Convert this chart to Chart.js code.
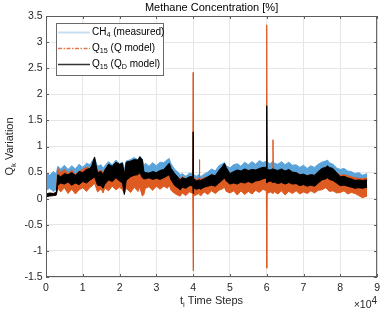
<!DOCTYPE html>
<html>
<head>
<meta charset="utf-8">
<script src="https://cdn.jsdelivr.net/npm/chart.js@4.4.1/dist/chart.umd.min.js"></script>
<style>
  html, body { margin: 0; padding: 0; background: #fff; }
  #wrap { width: 385px; height: 316px; }
</style>
</head>
<body>
<div id="wrap"><canvas id="chart" width="385" height="316"></canvas></div>
<script>
const steps = [
  0, 1000, 2000, 2800, 3200, 4000, 5000, 6000, 7000, 8000,
  9000, 10000, 11000, 12000, 12500, 13200, 14000, 15000, 15500, 16000,
  17000, 18000, 19000, 20000, 20800, 21300, 21800, 23000, 24000, 25000,
  25500, 26200, 26600, 27000, 28000, 29000, 30000, 31000, 32000, 33000,
  33500, 34000, 35000, 36000, 36500, 37000, 38000, 39000, 39900, 40000,
  40100, 41000, 41600, 41700, 41800, 42000, 43000, 44000, 45000, 46000,
  47000, 48000, 48500, 49000, 50000, 51000, 52000, 53000, 54000, 55000,
  56000, 57000, 58000, 59000, 59900, 60000, 60100, 61000, 61600, 61700,
  61800, 62000, 63000, 64000, 65000, 66000, 67000, 68000, 69000, 70000,
  71000, 72000, 73000, 74000, 75000, 76000, 76500, 77000, 78000, 79000,
  80000, 81000, 82000, 83000, 84000, 85000, 86000, 87300
];

// CH4 (measured), lower / upper edge of the band
const ch4Low = [
  0.16, 0.20, 0.14, 0.18, 0.30, 0.26, 0.30, 0.28, 0.32, 0.27,
  0.31, 0.30, 0.34, 0.33, 0.36, 0.38, 0.28, 0.27, 0.24, 0.28,
  0.32, 0.30, 0.36, 0.32, 0.30, 0.20, 0.32, 0.36, 0.38, 0.40,
  0.42, 0.35, 0.32, 0.34, 0.36, 0.34, 0.37, 0.35, 0.38, 0.40,
  0.42, 0.36, 0.30, 0.24, 0.22, 0.25, 0.24, 0.27, 0.28, 0.28,
  0.25, 0.24, 0.26, 0.26, 0.26, 0.25, 0.26, 0.28, 0.30, 0.28,
  0.32, 0.34, 0.36, 0.33, 0.30, 0.32, 0.31, 0.34, 0.32, 0.35,
  0.33, 0.36, 0.35, 0.38, 0.38, 0.38, 0.34, 0.36, 0.33, 0.33,
  0.33, 0.34, 0.31, 0.33, 0.30, 0.32, 0.29, 0.30, 0.27, 0.29,
  0.27, 0.29, 0.28, 0.30, 0.33, 0.35, 0.37, 0.34, 0.32, 0.29,
  0.26, 0.27, 0.26, 0.24, 0.22, 0.23, 0.22, 0.25
];
const ch4High = [
  0.50, 0.45, 0.52, 0.48, 0.62, 0.57, 0.64, 0.56, 0.63, 0.57,
  0.66, 0.60, 0.68, 0.65, 0.72, 0.78, 0.62, 0.65, 0.58, 0.63,
  0.71, 0.65, 0.74, 0.67, 0.70, 0.55, 0.72, 0.75, 0.79, 0.74,
  0.82, 0.75, 0.62, 0.68, 0.62, 0.69, 0.63, 0.70, 0.69, 0.75,
  0.77, 0.67, 0.56, 0.50, 0.46, 0.48, 0.43, 0.49, 0.48, 0.55,
  0.46, 0.43, 0.47, 0.47, 0.47, 0.42, 0.47, 0.51, 0.57, 0.53,
  0.63, 0.67, 0.69, 0.63, 0.59, 0.65, 0.67, 0.62, 0.70, 0.65,
  0.71, 0.66, 0.73, 0.69, 0.72, 0.80, 0.70, 0.67, 0.72, 0.72,
  0.72, 0.68, 0.66, 0.71, 0.65, 0.70, 0.64, 0.65, 0.60, 0.64,
  0.58, 0.63, 0.60, 0.66, 0.70, 0.72, 0.74, 0.69, 0.66, 0.59,
  0.56, 0.58, 0.53, 0.52, 0.48, 0.50, 0.45, 0.48
];

// Q15 (Q model)
const qLow = [
  0.05, 0.06, 0.06, 0.07, 0.20, 0.13, 0.21, 0.10, 0.18, 0.09,
  0.17, 0.21, 0.14, 0.22, 0.24, 0.30, 0.13, 0.19, 0.11, 0.21,
  0.15, 0.24, 0.17, 0.22, 0.17, 0.10, 0.20, 0.12, 0.22, 0.14,
  0.22, 0.05, 0.08, 0.20, 0.23, 0.16, 0.24, 0.18, 0.24, 0.20,
  0.26, 0.16, 0.10, 0.06, 0.05, 0.11, 0.06, 0.13, 0.10, -1.38,
  0.05, 0.08, 0.10, 0.10, 0.10, 0.05, 0.13, 0.08, 0.15, 0.10,
  0.16, 0.19, 0.22, 0.14, 0.11, 0.15, 0.07, 0.15, 0.08, 0.14,
  0.09, 0.16, 0.12, 0.18, 0.15, -1.33, 0.10, 0.13, 0.10, 0.10,
  0.10, 0.14, 0.09, 0.15, 0.07, 0.14, 0.10, 0.15, 0.09, 0.13,
  0.10, 0.15, 0.11, 0.16, 0.17, 0.21, 0.18, 0.14, 0.15, 0.11,
  0.12, 0.15, 0.09, 0.12, 0.10, 0.06, 0.02, 0.05
];
const qHigh = [
  0.09, 0.10, 0.10, 0.12, 0.58, 0.50, 0.56, 0.48, 0.55, 0.46,
  0.52, 0.56, 0.60, 0.58, 0.64, 0.70, 0.52, 0.55, 0.48, 0.56,
  0.62, 0.58, 0.64, 0.60, 0.60, 0.50, 0.62, 0.58, 0.64, 0.60,
  0.68, 0.60, 0.45, 0.46, 0.44, 0.47, 0.48, 0.50, 0.52, 0.55,
  0.56, 0.50, 0.45, 0.40, 0.38, 0.42, 0.38, 0.42, 0.42, 2.42,
  0.40, 0.36, 0.40, 0.75, 0.40, 0.37, 0.40, 0.42, 0.46, 0.44,
  0.52, 0.58, 0.62, 0.55, 0.48, 0.50, 0.48, 0.52, 0.50, 0.54,
  0.51, 0.55, 0.56, 0.57, 0.58, 3.33, 0.52, 0.54, 0.51, 1.13,
  0.51, 0.53, 0.49, 0.52, 0.48, 0.51, 0.49, 0.50, 0.46, 0.47,
  0.44, 0.46, 0.44, 0.50, 0.56, 0.60, 0.62, 0.58, 0.55, 0.50,
  0.45, 0.46, 0.44, 0.42, 0.40, 0.39, 0.38, 0.40
];

// Q15 (QD model)
const qdLow = [
  0.04, 0.05, 0.06, 0.07, 0.26, 0.30, 0.28, 0.32, 0.26, 0.30,
  0.27, 0.33, 0.30, 0.36, 0.38, 0.42, 0.26, 0.25, 0.20, 0.28,
  0.36, 0.33, 0.40, 0.34, 0.30, 0.08, 0.35, 0.42, 0.45, 0.46,
  0.50, 0.40, 0.38, 0.38, 0.40, 0.37, 0.39, 0.37, 0.40, 0.44,
  0.46, 0.36, 0.25, 0.20, 0.17, 0.22, 0.20, 0.25, 0.25, 0.10,
  0.20, 0.18, 0.20, 0.20, 0.20, 0.18, 0.22, 0.24, 0.26, 0.24,
  0.30, 0.36, 0.40, 0.34, 0.28, 0.30, 0.28, 0.32, 0.30, 0.33,
  0.30, 0.34, 0.35, 0.38, 0.40, 0.30, 0.32, 0.34, 0.31, 0.31,
  0.31, 0.32, 0.29, 0.31, 0.28, 0.31, 0.28, 0.29, 0.25, 0.27,
  0.24, 0.26, 0.24, 0.30, 0.36, 0.38, 0.40, 0.37, 0.35, 0.30,
  0.25, 0.26, 0.24, 0.22, 0.20, 0.21, 0.20, 0.22
];
const qdHigh = [
  0.09, 0.11, 0.10, 0.12, 0.46, 0.42, 0.48, 0.46, 0.50, 0.45,
  0.52, 0.50, 0.56, 0.58, 0.64, 0.80, 0.50, 0.52, 0.46, 0.55,
  0.66, 0.62, 0.70, 0.66, 0.68, 0.45, 0.70, 0.72, 0.75, 0.74,
  0.80, 0.75, 0.52, 0.50, 0.49, 0.52, 0.50, 0.54, 0.56, 0.64,
  0.68, 0.58, 0.48, 0.40, 0.36, 0.40, 0.38, 0.42, 0.42, 1.28,
  0.38, 0.34, 0.36, 0.36, 0.36, 0.35, 0.38, 0.42, 0.46, 0.44,
  0.54, 0.62, 0.68, 0.60, 0.48, 0.52, 0.55, 0.53, 0.57, 0.54,
  0.56, 0.55, 0.58, 0.60, 0.60, 1.78, 0.56, 0.55, 0.57, 0.57,
  0.57, 0.56, 0.54, 0.57, 0.53, 0.56, 0.51, 0.50, 0.46, 0.47,
  0.44, 0.46, 0.45, 0.52, 0.58, 0.60, 0.63, 0.60, 0.58, 0.50,
  0.42, 0.43, 0.40, 0.38, 0.35, 0.36, 0.35, 0.36
];

const FONT = '"Liberation Sans", Arial, Helvetica, sans-serif';
const AXIS_COLOR = '#262626';
const GRID_COLOR = '#e6e6e6';
const BLUE = '#5aa3db';
const ORANGE = '#dd5a20';
const BLACK = '#000000';

function pts(values) {
  return steps.map((x, i) => ({ x, y: values[i] }));
}

function band(values, fillTo, color) {
  return {
    data: pts(values),
    borderColor: color,
    backgroundColor: color,
    borderWidth: 1,
    pointRadius: 0,
    fill: fillTo,
  };
}

// text with subscripts: parts = [[text, isSub], ...]
function richWidth(ctx, parts, size) {
  let w = 0;
  for (const [t, sub] of parts) {
    ctx.font = `${sub ? size * 0.72 : size}px ${FONT}`;
    w += ctx.measureText(t).width;
  }
  return w;
}

function drawRich(ctx, parts, x, y, size, align) {
  let cx = x;
  if (align === 'center') cx = x - richWidth(ctx, parts, size) / 2;
  ctx.textAlign = 'left';
  ctx.textBaseline = 'middle';
  for (const [t, sub] of parts) {
    ctx.font = `${sub ? size * 0.72 : size}px ${FONT}`;
    ctx.fillText(t, cx, sub ? y + size * 0.32 : y);
    cx += ctx.measureText(t).width;
  }
}

const matlabFrame = {
  id: 'matlabFrame',
  afterDraw(chart) {
    const { ctx, chartArea: a, scales } = chart;
    ctx.save();

    // axes box + inward ticks
    ctx.strokeStyle = '#5c5c5c';
    ctx.lineWidth = 1;
    ctx.strokeRect(a.left + 0.5, a.top + 0.5, a.right - a.left - 1, a.bottom - a.top - 1);
    ctx.beginPath();
    scales.x.ticks.forEach(t => {
      const px = Math.round(scales.x.getPixelForValue(t.value)) + 0.5;
      ctx.moveTo(px, a.bottom); ctx.lineTo(px, a.bottom - 3);
      ctx.moveTo(px, a.top); ctx.lineTo(px, a.top + 3);
    });
    scales.y.ticks.forEach(t => {
      const py = Math.round(scales.y.getPixelForValue(t.value)) + 0.5;
      ctx.moveTo(a.left, py); ctx.lineTo(a.left + 3, py);
      ctx.moveTo(a.right, py); ctx.lineTo(a.right - 3, py);
    });
    ctx.stroke();

    // title
    ctx.fillStyle = '#000';
    ctx.font = `11px ${FONT}`;
    ctx.textAlign = 'center';
    ctx.textBaseline = 'middle';
    ctx.fillText('Methane Concentration [%]', (a.left + a.right) / 2, 8);

    // axis labels
    ctx.fillStyle = AXIS_COLOR;
    drawRich(ctx, [['t', false], ['i', true], [' Time Steps', false]], (a.left + a.right) / 2, 301, 11, 'center');
    ctx.save();
    ctx.translate(10, (a.top + a.bottom) / 2);
    ctx.rotate(-Math.PI / 2);
    drawRich(ctx, [['Q', false], ['k', true], [' Variation', false]], 0, 0, 11, 'center');
    ctx.restore();

    // exponent label
    ctx.font = `10px ${FONT}`;
    ctx.textAlign = 'right';
    ctx.textBaseline = 'middle';
    ctx.fillText('4', a.right, 301);
    const w4 = ctx.measureText('4').width;
    ctx.font = `10.5px ${FONT}`;
    ctx.fillText('\u00d710', a.right - w4, 305);

    // legend
    const lx = 56, ly = 23, lw = 107, lh = 52;
    ctx.fillStyle = '#fff';
    ctx.fillRect(lx, ly, lw, lh);
    ctx.strokeStyle = '#6a6a6a';
    ctx.strokeRect(lx + 0.5, ly + 0.5, lw, lh);
    const rows = [
      { y: 32, color: '#c6def0', width: 2, dash: [], parts: [['CH', false], ['4', true], [' (measured)', false]] },
      { y: 48, color: '#e27a48', width: 1.5, dash: [4, 1.5, 1.5, 1.5], parts: [['Q', false], ['15', true], [' (Q model)', false]] },
      { y: 64, color: '#333', width: 1.5, dash: [], parts: [['Q', false], ['15', true], [' (Q', false], ['D', true], [' model)', false]] },
    ];
    rows.forEach(r => {
      ctx.beginPath();
      ctx.setLineDash(r.dash);
      ctx.strokeStyle = r.color;
      ctx.lineWidth = r.width;
      ctx.moveTo(58, r.y + 0.5);
      ctx.lineTo(90, r.y + 0.5);
      ctx.stroke();
      ctx.setLineDash([]);
      ctx.fillStyle = '#000';
      drawRich(ctx, r.parts, 92, r.y, 10, 'left');
    });

    ctx.restore();
  },
};

new Chart(document.getElementById('chart'), {
  type: 'line',
  data: {
    // index 0 is drawn last, so the black band sits on top
    datasets: [
      band(qdHigh, 1, BLACK),
      band(qdLow, false, BLACK),
      band(qHigh, 3, ORANGE),
      band(qLow, false, ORANGE),
      band(ch4High, 5, BLUE),
      band(ch4Low, false, BLUE),
    ],
  },
  options: {
    responsive: false,
    animation: false,
    events: [],
    layout: { padding: { top: 16, right: 7, left: 0, bottom: 0 } },
    elements: { line: { tension: 0 } },
    plugins: {
      legend: { display: false },
      tooltip: { enabled: false },
    },
    scales: {
      x: {
        type: 'linear',
        min: 0,
        max: 90000,
        afterFit(scale) { scale.height = 39; },
        grid: { color: GRID_COLOR, drawTicks: false },
        border: { display: false },
        ticks: {
          stepSize: 10000,
          padding: 5,
          maxRotation: 0,
          autoSkip: false,
          color: AXIS_COLOR,
          font: { family: FONT, size: 10.5 },
          callback: v => String(v / 10000),
        },
      },
      y: {
        min: -1.5,
        max: 3.5,
        afterFit(scale) { scale.width = 46; },
        grid: { color: GRID_COLOR, drawTicks: false },
        border: { display: false },
        ticks: {
          stepSize: 0.5,
          padding: 3.5,
          color: AXIS_COLOR,
          font: { family: FONT, size: 10.5 },
          callback: v => String(Math.round(v * 10) / 10),
        },
      },
    },
  },
  plugins: [matlabFrame],
});
</script>
</body>
</html>
